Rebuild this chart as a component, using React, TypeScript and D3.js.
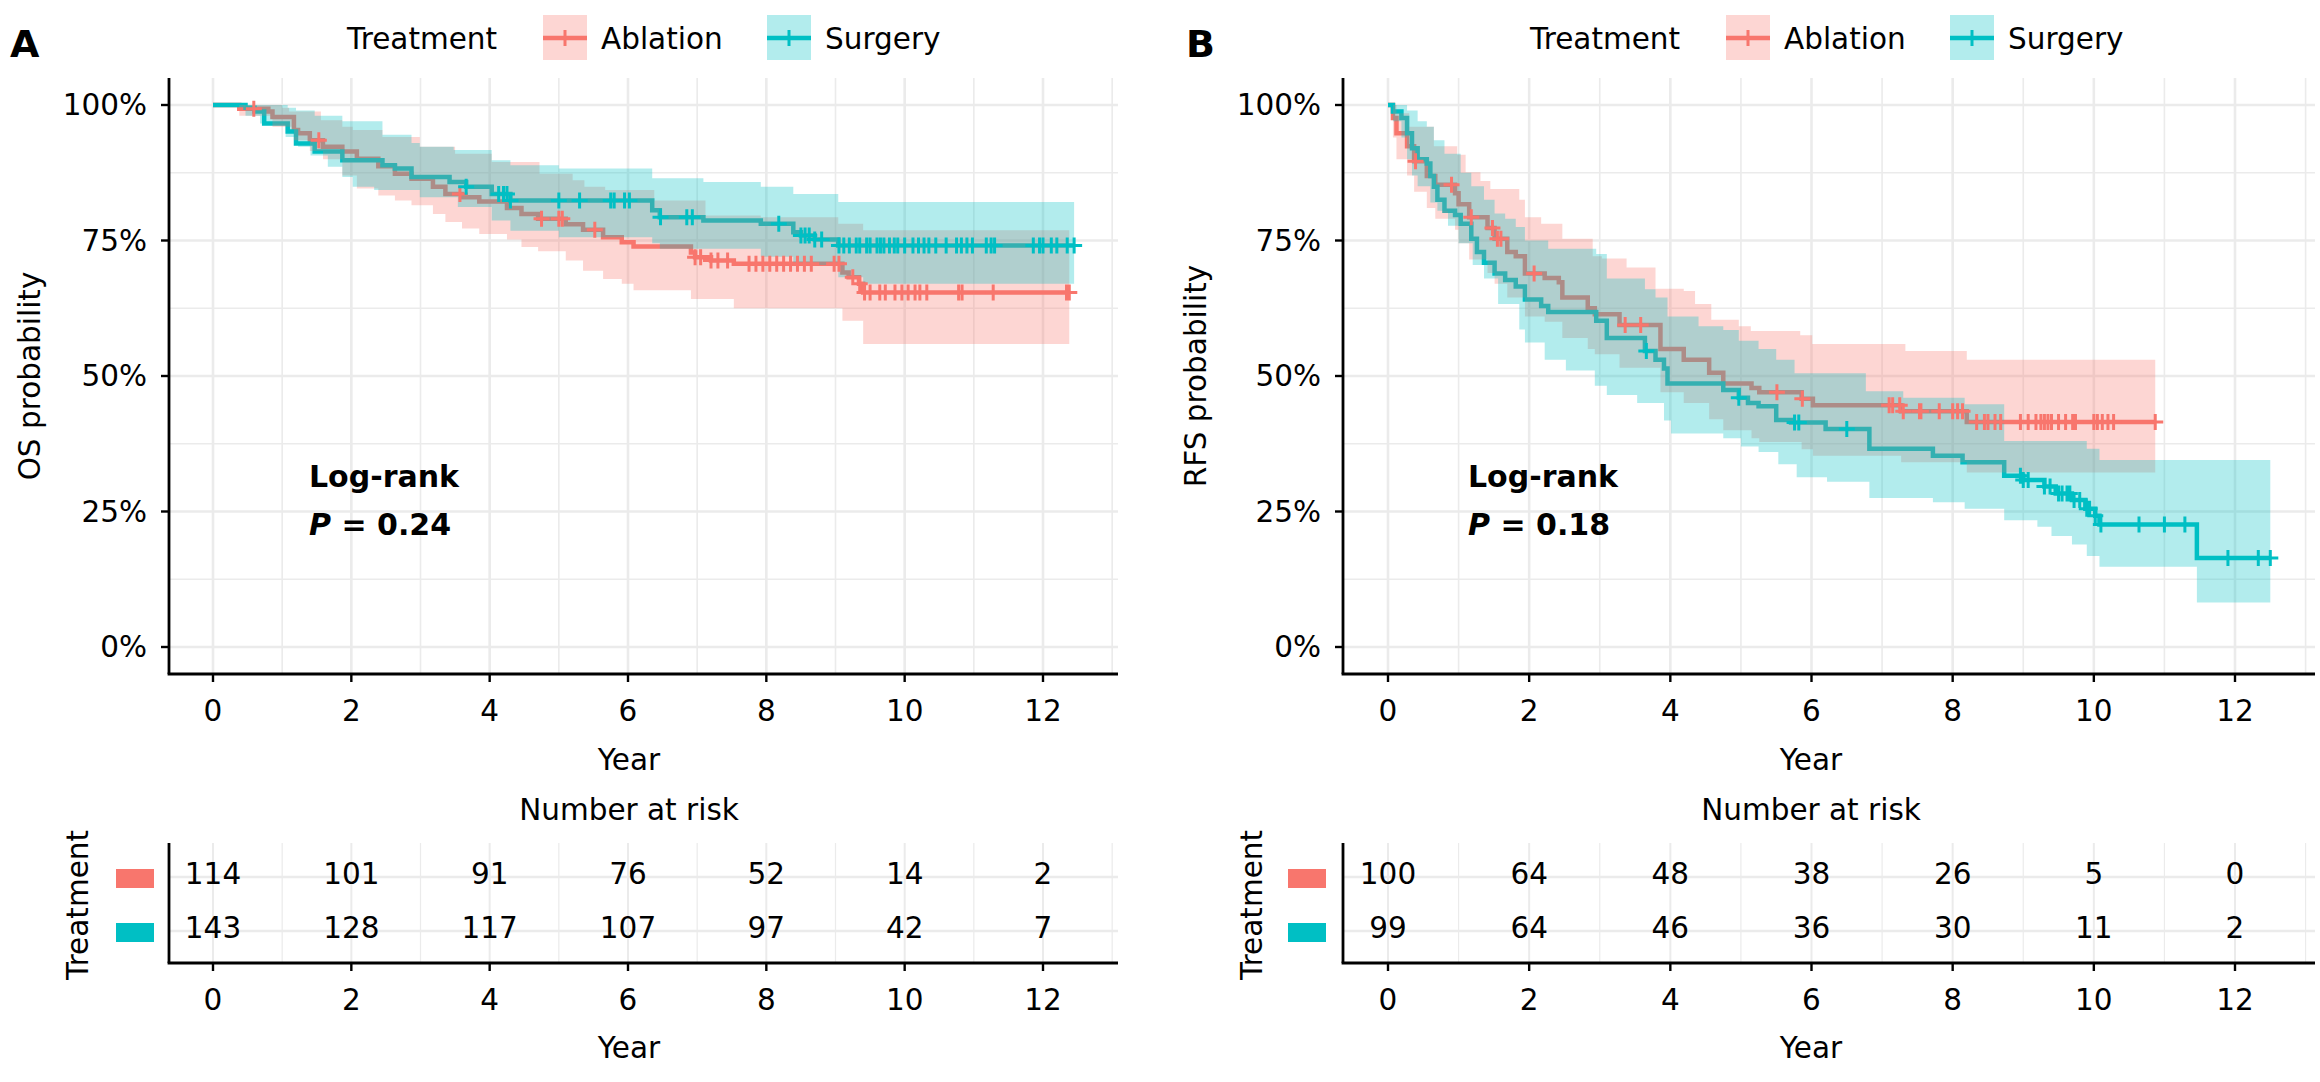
import React from "react";
import * as d3 from "d3";

type Step = [number, number];

const groups = ["Ablation", "Surgery"];
const groupColor: Record<string, string> = { Ablation: "#F8766D", Surgery: "#00BFC4" };

// ---- Panel A: overall survival (years, probability) ----
const osAblation: Step[] = [
  [0, 1], [0.38, 0.993], [0.8, 0.988], [0.86, 0.978], [1.17, 0.954], [1.23, 0.948], [1.4, 0.935],
  [1.59, 0.923], [1.87, 0.914], [2.08, 0.901], [2.39, 0.887], [2.63, 0.873], [2.87, 0.864],
  [3.18, 0.849], [3.36, 0.836], [3.6, 0.83], [3.85, 0.822], [4.25, 0.81], [4.46, 0.799], [4.7, 0.79],
  [5.1, 0.78], [5.35, 0.77], [5.64, 0.756], [5.91, 0.747], [6.08, 0.739], [6.91, 0.728], [6.97, 0.719],
  [7.2, 0.713], [7.53, 0.707], [9.1, 0.691], [9.19, 0.682], [9.34, 0.67], [9.4, 0.654],
];
const osAblationUpper: Step[] = [
  [0, 1], [1.0, 0.995], [1.1, 0.988], [1.56, 0.972], [1.87, 0.96], [2.02, 0.954], [2.45, 0.941],
  [2.99, 0.923], [3.5, 0.91], [4.03, 0.895], [4.72, 0.873], [5.2, 0.861], [5.37, 0.849], [5.67, 0.843],
  [6.38, 0.824], [7.12, 0.796], [7.92, 0.793], [9.04, 0.781], [9.4, 0.769],
];
const osAblationLower: Step[] = [
  [0, 1], [0.38, 0.98], [0.86, 0.96], [1.17, 0.935], [1.4, 0.915], [1.59, 0.9], [1.87, 0.87],
  [2.08, 0.846], [2.39, 0.833], [2.63, 0.824], [2.87, 0.815], [3.18, 0.799], [3.36, 0.784],
  [3.6, 0.772], [3.85, 0.762], [4.25, 0.752], [4.46, 0.738], [4.7, 0.73], [5.1, 0.713], [5.35, 0.694],
  [5.64, 0.679], [5.91, 0.67], [6.08, 0.658], [6.91, 0.642], [7.53, 0.625], [9.1, 0.602], [9.4, 0.559],
];
const osAblationCensor = [
  0.59, 1.53, 3.57, 4.75, 5.0, 5.05, 5.52, 6.97, 7.05, 7.2, 7.3, 7.44, 7.75, 7.85, 7.95, 8.05, 8.15,
  8.25, 8.35, 8.45, 8.55, 8.65, 8.98, 9.05, 9.25, 9.35, 9.42, 9.5, 9.64, 9.72, 9.86, 9.96, 10.05,
  10.15, 10.22, 10.32, 10.78, 10.83, 11.28, 12.34, 12.38,
];
const osAblationEnd = 12.38;

const osSurgery: Step[] = [
  [0, 1], [0.47, 0.995], [0.6, 0.988], [0.74, 0.966], [1.08, 0.951], [1.2, 0.929], [1.47, 0.914],
  [1.87, 0.898], [2.45, 0.889], [2.63, 0.883], [2.87, 0.867], [3.42, 0.858], [3.66, 0.849],
  [4.03, 0.836], [4.3, 0.824], [6.35, 0.806], [6.46, 0.793], [7.09, 0.787], [7.92, 0.781],
  [8.39, 0.765], [8.5, 0.759], [8.7, 0.752], [9.04, 0.741],
];
const osSurgeryUpper: Step[] = [
  [0, 1], [1.08, 0.995], [1.2, 0.99], [1.47, 0.98], [1.87, 0.97], [2.45, 0.945], [2.87, 0.93],
  [2.99, 0.923], [3.48, 0.917], [4.03, 0.898], [4.3, 0.889], [5.0, 0.883], [6.35, 0.865],
  [7.09, 0.858], [7.92, 0.849], [8.39, 0.836], [9.04, 0.821],
];
const osSurgeryLower: Step[] = [
  [0, 1], [0.47, 0.98], [0.68, 0.966], [1.05, 0.941], [1.23, 0.923], [1.41, 0.907], [1.66, 0.886],
  [1.87, 0.867], [2.02, 0.849], [2.33, 0.843], [2.99, 0.83], [3.54, 0.812], [4.03, 0.787],
  [4.3, 0.768], [5.0, 0.756], [6.35, 0.745], [6.46, 0.735], [7.92, 0.72], [8.39, 0.705],
  [9.04, 0.682], [9.4, 0.67],
];
const osSurgeryCensor = [
  3.66, 4.13, 4.2, 4.25, 4.3, 5.0, 5.3, 5.75, 5.8, 5.95, 6.02, 6.47, 6.85, 6.93, 8.18, 8.5, 8.56,
  8.62, 8.7, 8.8, 9.05, 9.12, 9.2, 9.3, 9.35, 9.45, 9.5, 9.6, 9.65, 9.7, 9.78, 9.85, 9.9, 10.0,
  10.12, 10.2, 10.28, 10.35, 10.45, 10.6, 10.75, 10.82, 10.9, 10.98, 11.18, 11.25, 11.3, 11.86,
  11.95, 12.0, 12.12, 12.2, 12.35, 12.45,
];
const osSurgeryEnd = 12.45;

// ---- Panel B: recurrence-free survival ----
const rfsAblation: Step[] = [
  [0, 1], [0.07, 0.976], [0.12, 0.948], [0.27, 0.924], [0.37, 0.896], [0.55, 0.869], [0.67, 0.853],
  [0.95, 0.837], [1.0, 0.817], [1.15, 0.793], [1.41, 0.773], [1.51, 0.753], [1.69, 0.729],
  [1.81, 0.721], [1.94, 0.689], [2.22, 0.681], [2.42, 0.673], [2.47, 0.645], [2.83, 0.625],
  [2.93, 0.614], [3.28, 0.594], [3.86, 0.55], [4.19, 0.53], [4.55, 0.506], [4.75, 0.486],
  [5.15, 0.478], [5.26, 0.47], [5.86, 0.458], [6.02, 0.446], [7.27, 0.435], [8.2, 0.415],
];
const rfsAblationUpper: Step[] = [
  [0, 1], [0.12, 0.985], [0.3, 0.96], [0.65, 0.924], [0.98, 0.908], [1.1, 0.876], [1.31, 0.86],
  [1.45, 0.845], [1.86, 0.825], [1.94, 0.793], [2.17, 0.781], [2.47, 0.753], [2.9, 0.721],
  [3.03, 0.717], [3.38, 0.7], [3.79, 0.661], [4.19, 0.657], [4.35, 0.633], [4.58, 0.604],
  [4.97, 0.592], [5.14, 0.583], [5.84, 0.575], [6.01, 0.559], [7.33, 0.546], [8.2, 0.53],
];
const rfsAblationLower: Step[] = [
  [0, 1], [0.07, 0.94], [0.12, 0.9], [0.27, 0.87], [0.37, 0.84], [0.55, 0.81], [0.67, 0.79],
  [0.95, 0.77], [1.0, 0.745], [1.15, 0.715], [1.41, 0.69], [1.51, 0.67], [1.69, 0.645], [1.94, 0.61],
  [2.22, 0.6], [2.47, 0.57], [2.83, 0.55], [2.93, 0.54], [3.28, 0.515], [3.86, 0.47], [4.19, 0.45],
  [4.55, 0.42], [4.75, 0.4], [5.15, 0.385], [5.26, 0.378], [5.86, 0.365], [6.02, 0.353],
  [7.27, 0.341], [8.2, 0.322],
];
const rfsAblationCensor = [
  0.39, 0.9, 1.18, 1.48, 1.55, 1.6, 2.07, 3.36, 3.58, 5.51, 5.87, 7.1, 7.15, 7.25, 7.3, 7.53, 7.55,
  7.81, 8.0, 8.07, 8.14, 8.34, 8.45, 8.5, 8.6, 8.68, 8.96, 9.07, 9.18, 9.25, 9.3, 9.35, 9.4, 9.5,
  9.6, 9.7, 9.74, 10.0, 10.05, 10.12, 10.2, 10.28, 10.87,
];
const rfsAblationEnd = 10.87;

const rfsSurgery: Step[] = [
  [0, 1], [0.07, 0.988], [0.19, 0.976], [0.27, 0.948], [0.34, 0.92], [0.42, 0.9], [0.55, 0.892],
  [0.6, 0.869], [0.65, 0.849], [0.7, 0.825], [0.8, 0.805], [0.95, 0.797], [1.03, 0.781],
  [1.18, 0.753], [1.26, 0.729], [1.36, 0.709], [1.51, 0.689], [1.66, 0.677], [1.81, 0.665],
  [1.94, 0.641], [2.17, 0.629], [2.27, 0.618], [2.95, 0.602], [3.1, 0.57], [3.64, 0.546],
  [3.79, 0.53], [3.91, 0.514], [3.96, 0.486], [4.75, 0.474], [4.97, 0.46], [5.1, 0.45],
  [5.25, 0.444], [5.5, 0.419], [5.71, 0.414], [6.2, 0.402], [6.82, 0.366], [7.72, 0.353],
  [8.14, 0.341], [8.73, 0.316], [9.0, 0.308], [9.3, 0.296], [9.46, 0.283], [9.69, 0.271],
  [9.88, 0.255], [10.02, 0.242], [10.08, 0.226], [11.46, 0.164],
];
const rfsSurgeryUpper: Step[] = [
  [0, 1], [0.27, 0.99], [0.42, 0.97], [0.55, 0.96], [0.65, 0.935], [0.8, 0.91], [1.03, 0.875],
  [1.18, 0.85], [1.36, 0.825], [1.51, 0.8], [1.66, 0.79], [1.81, 0.775], [1.94, 0.75], [2.27, 0.735],
  [2.95, 0.725], [3.1, 0.68], [3.64, 0.66], [3.79, 0.645], [3.96, 0.61], [4.4, 0.592], [4.75, 0.585],
  [4.97, 0.565], [5.25, 0.55], [5.5, 0.53], [5.76, 0.505], [6.77, 0.472], [7.3, 0.46], [8.17, 0.448],
  [8.73, 0.38], [9.9, 0.366], [10.08, 0.345],
];
const rfsSurgeryLower: Step[] = [
  [0, 1], [0.07, 0.97], [0.19, 0.94], [0.27, 0.9], [0.34, 0.87], [0.42, 0.85], [0.6, 0.82],
  [0.7, 0.805], [0.85, 0.777], [1.0, 0.745], [1.2, 0.705], [1.36, 0.68], [1.56, 0.633],
  [1.86, 0.586], [1.94, 0.562], [2.22, 0.53], [2.52, 0.51], [2.93, 0.482], [3.1, 0.465],
  [3.53, 0.45], [3.91, 0.418], [4.01, 0.394], [4.75, 0.385], [5.0, 0.37], [5.25, 0.36],
  [5.53, 0.337], [5.79, 0.313], [6.22, 0.305], [6.82, 0.275], [7.72, 0.267], [8.17, 0.255],
  [8.73, 0.234], [9.2, 0.222], [9.4, 0.205], [9.69, 0.189], [9.9, 0.168], [10.08, 0.148],
  [11.46, 0.082],
];
const rfsSurgeryCensor = [
  3.66, 4.97, 5.76, 5.82, 6.5, 8.96, 9.0, 9.07, 9.3, 9.38, 9.5, 9.55, 9.62, 9.66, 9.72, 9.8, 9.9,
  9.94, 10.02, 10.1, 10.64, 11.0, 11.29, 11.9, 12.33, 12.5,
];
const rfsSurgeryEnd = 12.5;

// ---- number at risk ----
const riskTimes = [0, 2, 4, 6, 8, 10, 12];
const osRiskAblation = [114, 101, 91, 76, 52, 14, 2];
const osRiskSurgery = [143, 128, 117, 107, 97, 42, 7];
const rfsRiskAblation = [100, 64, 48, 38, 26, 5, 0];
const rfsRiskSurgery = [99, 64, 46, 36, 30, 11, 2];

const FONT = "DejaVu Sans";
const FS = 29.5;

interface Curve {
  group: string;
  steps: Step[];
  upper: Step[];
  lower: Step[];
  censor: number[];
  end: number;
}

interface PanelProps {
  letter: string;
  letterX: number;
  left: number;
  right: number;
  x0: number;
  x12: number;
  yTitle: string;
  yTitleX: number;
  legendX: number;
  logrankX: number;
  pValue: string;
  centerX: number;
  treatX: number;
  keyX: number;
  curves: Curve[];
  risk: Record<string, number[]>;
}

const stepAt = (steps: Step[], t: number) => {
  let v = steps[0][1];
  for (const s of steps) if (s[0] <= t) v = s[1];
  return v;
};

function Panel(p: PanelProps) {
  const x = d3.scaleLinear().domain([0, 12]).range([p.x0, p.x12]);
  const y = d3.scaleLinear().domain([0, 1]).range([647, 105]);
  const top = 78;
  const bottom = 674;
  const tTop = 843;
  const tBottom = 963;
  const row = d3.scalePoint<string>().domain(groups).range([877, 931]);

  const xMajor = d3.range(0, 13, 2);
  const xMinor = d3.range(1, 14, 2).filter((t) => x(t) < p.right);
  const yMajor = [0, 0.25, 0.5, 0.75, 1];
  const yMinor = [0.125, 0.375, 0.625, 0.875];

  const line = d3
    .line<Step>()
    .x((d) => x(d[0]))
    .y((d) => y(d[1]))
    .curve(d3.curveStepAfter);

  const area = d3
    .area<{ t: number; lo: number; hi: number }>()
    .x((d) => x(d.t))
    .y0((d) => y(d.lo))
    .y1((d) => y(d.hi))
    .curve(d3.curveStepAfter);

  const bandPts = (c: Curve) => {
    const times = Array.from(new Set([...c.upper.map((d) => d[0]), ...c.lower.map((d) => d[0])]))
      .filter((t) => t < c.end)
      .sort((a, b) => a - b);
    const pts = times.map((t) => ({ t, lo: stepAt(c.lower, t), hi: stepAt(c.upper, t) }));
    pts.push({ t: c.end, lo: stepAt(c.lower, c.end), hi: stepAt(c.upper, c.end) });
    return pts;
  };

  const linePts = (c: Curve): Step[] => [
    ...c.steps.filter((d) => d[0] < c.end),
    [c.end, stepAt(c.steps, c.end)],
  ];

  const plus = (cx: number, cy: number, s = 8) => `M${cx - s},${cy}H${cx + s}M${cx},${cy - s}V${cy + s}`;

  const grid = (y0: number, y1: number, withY: number[] | null, minorY: number[] | null) => (
    <g>
      {xMinor.map((t) => (
        <line key={"xm" + t} x1={x(t)} x2={x(t)} y1={y0} y2={y1} stroke="#EBEBEB" strokeWidth={1.6} />
      ))}
      {minorY &&
        minorY.map((v) => (
          <line key={"ym" + v} x1={p.left} x2={p.right} y1={y(v)} y2={y(v)} stroke="#EBEBEB" strokeWidth={1.6} />
        ))}
      {xMajor.map((t) => (
        <line key={"xM" + t} x1={x(t)} x2={x(t)} y1={y0} y2={y1} stroke="#EBEBEB" strokeWidth={2.6} />
      ))}
      {withY &&
        withY.map((v) => (
          <line key={"yM" + v} x1={p.left} x2={p.right} y1={y(v)} y2={y(v)} stroke="#EBEBEB" strokeWidth={2.6} />
        ))}
    </g>
  );

  const riskValues = groups.map((g) => p.risk[g]);

  return (
    <g fontFamily={FONT} fontSize={FS}>
      {/* panel letter */}
      <text x={p.letterX} y={57} fontSize={38} fontWeight="bold">
        {p.letter}
      </text>

      {/* legend */}
      <text x={p.legendX} y={49}>Treatment</text>
      {groups.map((g, i) => {
        const kx = p.legendX + 196 + i * 224;
        return (
          <g key={g}>
            <rect x={kx} y={15} width={44} height={45} fill={groupColor[g]} fillOpacity={0.3} />
            <line x1={kx} x2={kx + 44} y1={38} y2={38} stroke={groupColor[g]} strokeWidth={4.5} />
            <path d={plus(kx + 22, 38, 8)} stroke={groupColor[g]} strokeWidth={3} />
            <text x={kx + 58} y={49}>{g}</text>
          </g>
        );
      })}

      {/* grid */}
      {grid(top, bottom, yMajor, yMinor)}

      {/* curves under ribbons */}
      {p.curves.map((c) => (
        <path key={"l" + c.group} d={line(linePts(c)) || ""} fill="none" stroke={groupColor[c.group]} strokeWidth={4.5} />
      ))}
      {p.curves.map((c) => (
        <path key={"b" + c.group} d={area(bandPts(c)) || ""} fill={groupColor[c.group]} fillOpacity={0.3} />
      ))}
      {p.curves.map((c) => (
        <path
          key={"c" + c.group}
          d={c.censor.map((t) => plus(x(t), y(stepAt(c.steps, t)))).join("")}
          stroke={groupColor[c.group]}
          strokeWidth={3}
          fill="none"
        />
      ))}

      {/* axes */}
      <line x1={p.left} x2={p.left} y1={top} y2={bottom} stroke="black" strokeWidth={2.8} />
      <line x1={p.left - 1.4} x2={p.right} y1={bottom} y2={bottom} stroke="black" strokeWidth={2.8} />
      {yMajor.map((v) => (
        <g key={"yt" + v}>
          <line x1={p.left - 8} x2={p.left} y1={y(v)} y2={y(v)} stroke="black" strokeWidth={2.4} />
          <text x={p.left - 22} y={y(v) + 10} textAnchor="end">
            {d3.format(".0%")(v)}
          </text>
        </g>
      ))}
      {xMajor.map((t) => (
        <g key={"xt" + t}>
          <line x1={x(t)} x2={x(t)} y1={bottom} y2={bottom + 8} stroke="black" strokeWidth={2.4} />
          <text x={x(t)} y={bottom + 47} textAnchor="middle">{t}</text>
        </g>
      ))}
      <text x={p.centerX} y={770} textAnchor="middle">Year</text>
      <text transform={`translate(${p.yTitleX},${(top + bottom) / 2}) rotate(-90)`} textAnchor="middle">
        {p.yTitle}
      </text>

      {/* log-rank */}
      <text x={p.logrankX} y={487} fontWeight="bold" fontSize={30}>Log-rank</text>
      <text x={p.logrankX} y={535} fontWeight="bold" fontSize={30}>
        <tspan fontStyle="italic">P</tspan> = {p.pValue}
      </text>

      {/* risk table */}
      <text x={p.centerX} y={820} textAnchor="middle">Number at risk</text>
      {xMinor.map((t) => (
        <line key={"rxm" + t} x1={x(t)} x2={x(t)} y1={tTop} y2={tBottom} stroke="#EBEBEB" strokeWidth={1.2} />
      ))}
      {xMajor.map((t) => (
        <line key={"rxM" + t} x1={x(t)} x2={x(t)} y1={tTop} y2={tBottom} stroke="#EBEBEB" strokeWidth={2} />
      ))}
      {groups.map((g) => (
        <line key={"ry" + g} x1={p.left} x2={p.right} y1={row(g)!} y2={row(g)!} stroke="#EBEBEB" strokeWidth={2.6} />
      ))}
      {groups.map((g, gi) =>
        riskTimes.map((t, i) => (
          <text key={g + t} x={x(t)} y={row(g)! + 7} textAnchor="middle">
            {riskValues[gi][i]}
          </text>
        ))
      )}
      {groups.map((g) => (
        <rect key={"k" + g} x={p.keyX} y={row(g)! - 8} width={38} height={19} fill={groupColor[g]} />
      ))}
      <line x1={p.left} x2={p.left} y1={tTop} y2={tBottom} stroke="black" strokeWidth={2.8} />
      <line x1={p.left - 1.4} x2={p.right} y1={tBottom} y2={tBottom} stroke="black" strokeWidth={2.8} />
      {xMajor.map((t) => (
        <g key={"rxt" + t}>
          <line x1={x(t)} x2={x(t)} y1={tBottom} y2={tBottom + 8} stroke="black" strokeWidth={2.4} />
          <text x={x(t)} y={tBottom + 47} textAnchor="middle">{t}</text>
        </g>
      ))}
      <text x={p.centerX} y={1058} textAnchor="middle">Year</text>
      <text transform={`translate(${p.treatX},905) rotate(-90)`} textAnchor="middle">Treatment</text>
    </g>
  );
}

export default function App() {
  const panelA: PanelProps = {
    letter: "A",
    letterX: 10,
    left: 169,
    right: 1118,
    x0: 213,
    x12: 1043,
    yTitle: "OS probability",
    yTitleX: 40,
    legendX: 347,
    logrankX: 309,
    pValue: "0.24",
    centerX: 629,
    treatX: 88,
    keyX: 116,
    curves: [
      { group: "Ablation", steps: osAblation, upper: osAblationUpper, lower: osAblationLower, censor: osAblationCensor, end: osAblationEnd },
      { group: "Surgery", steps: osSurgery, upper: osSurgeryUpper, lower: osSurgeryLower, censor: osSurgeryCensor, end: osSurgeryEnd },
    ],
    risk: { Ablation: osRiskAblation, Surgery: osRiskSurgery },
  };
  const panelB: PanelProps = {
    letter: "B",
    letterX: 1186,
    left: 1343,
    right: 2315,
    x0: 1388,
    x12: 2235,
    yTitle: "RFS probability",
    yTitleX: 1206,
    legendX: 1530,
    logrankX: 1468,
    pValue: "0.18",
    centerX: 1811,
    treatX: 1262,
    keyX: 1288,
    curves: [
      { group: "Ablation", steps: rfsAblation, upper: rfsAblationUpper, lower: rfsAblationLower, censor: rfsAblationCensor, end: rfsAblationEnd },
      { group: "Surgery", steps: rfsSurgery, upper: rfsSurgeryUpper, lower: rfsSurgeryLower, censor: rfsSurgeryCensor, end: rfsSurgeryEnd },
    ],
    risk: { Ablation: rfsRiskAblation, Surgery: rfsRiskSurgery },
  };

  return (
    <svg
      width={2320}
      height={1082}
      style={{ position: "absolute", left: 0, top: 0, background: "white" }}
    >
      <rect width={2320} height={1082} fill="white" />
      <Panel {...panelA} />
      <Panel {...panelB} />
    </svg>
  );
}
